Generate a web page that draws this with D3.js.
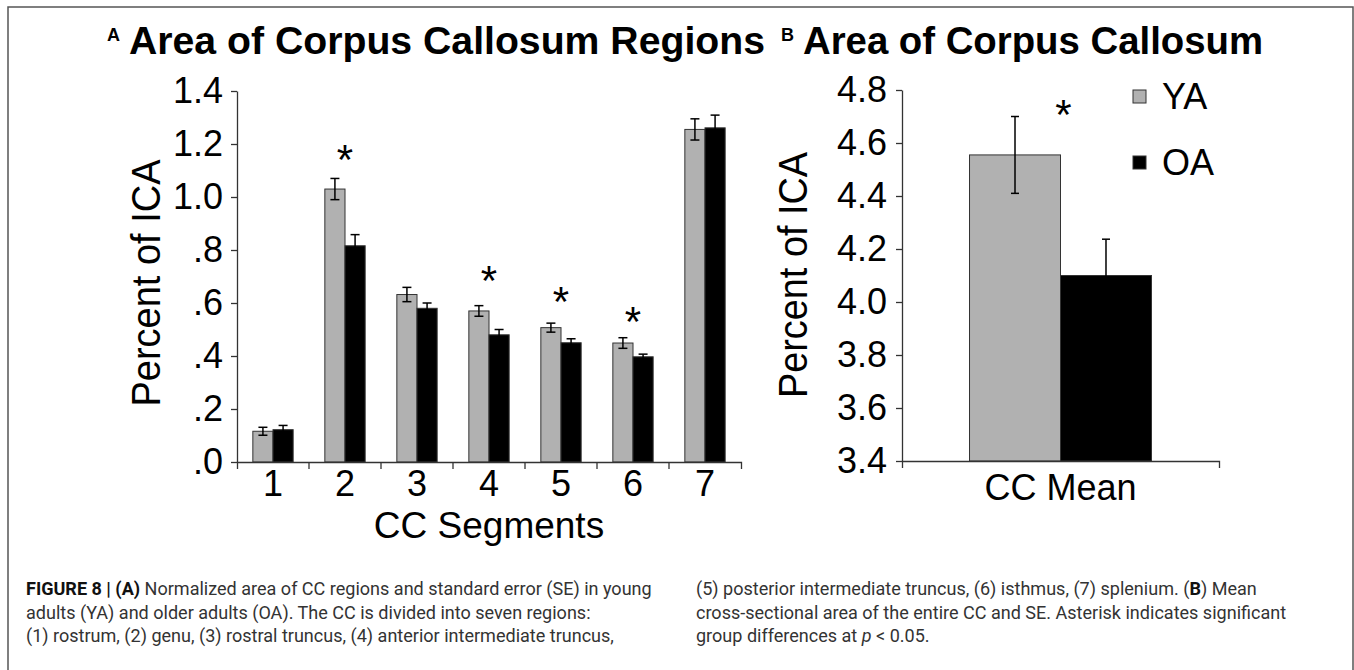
<!DOCTYPE html>
<html>
<head>
<meta charset="utf-8">
<script src="https://cdn.jsdelivr.net/npm/d3@7"></script>
<style>
  body { margin: 0; background: #fff; }
  svg { display: block; font-family: "Liberation Sans", Arial, sans-serif; }
  .axis path, .axis line { stroke: #333; stroke-width: 1.3; }
</style>
</head>
<body>
<svg id="fig" width="1354" height="670"></svg>
<script>
// Panel A data: CC segment areas (percent of ICA)
const segments = ["1", "2", "3", "4", "5", "6", "7"];
const yaMeans = [0.116, 1.030, 0.632, 0.570, 0.507, 0.449, 1.255];
const yaSE    = [0.015, 0.040, 0.027, 0.020, 0.017, 0.020, 0.040];
const oaMeans = [0.122, 0.816, 0.580, 0.480, 0.450, 0.397, 1.261];
const oaSE    = [0.016, 0.042, 0.020, 0.020, 0.015, 0.010, 0.048];
const sigSegments = ["2", "4", "5", "6"];
const sigMarkA = [1.177, 0.722, 0.642, 0.566];
const yTicksA = [0, 0.2, 0.4, 0.6, 0.8, 1.0, 1.2, 1.4];

// Panel B data: whole CC mean
const groups = ["YA", "OA"];
const totalCategory = ["CC Mean"];
const totalMeans = [4.555, 4.100];
const totalSE = [0.145, 0.137];
const sigMarkB = 4.743;
const yTicksB = [3.4, 3.6, 3.8, 4.0, 4.2, 4.4, 4.6, 4.8];

const groupFill = {YA: "#b1b1b1", OA: "#000"};
const svg = d3.select("#fig");

// figure frame
svg.append("path")
  .attr("d", "M8,670V7H1353V670")
  .attr("fill", "none").attr("stroke", "#555").attr("stroke-width", 1.5);

function fmtA(d) {
  let s = d3.format(".1f")(d);
  return d < 1 ? s.replace(/^0/, "") : s;
}

function drawStar(g, x, y) {
  const fs = 42;
  g.append("text")
    .attr("x", x).attr("y", y + 0.572 * fs)
    .attr("text-anchor", "middle")
    .attr("font-size", fs)
    .text("*");
}

function errorBar(g, x, yTop, yBot, cap) {
  g.append("line").attr("x1", x).attr("x2", x).attr("y1", yTop).attr("y2", yBot)
    .attr("stroke", "#000").attr("stroke-width", 1.5);
  [yTop, yBot].forEach(function (y) {
    g.append("line").attr("x1", x - cap / 2).attr("x2", x + cap / 2).attr("y1", y).attr("y2", y)
      .attr("stroke", "#000").attr("stroke-width", 1.5);
  });
}

// ---------- Panel A ----------
const gA = svg.append("g");
const yA = d3.scaleLinear().domain([0, 1.4]).range([462, 91]);
const xA = d3.scaleBand().domain(segments).range([237, 741]).paddingInner(0.44).paddingOuter(0.22);
const subA = d3.scaleBand().domain(groups).range([0, xA.bandwidth()]);

const rowsA = segments.map(function (s, i) {
  return [
    {seg: s, grp: "YA", mean: yaMeans[i], se: yaSE[i]},
    {seg: s, grp: "OA", mean: oaMeans[i], se: oaSE[i]}
  ];
}).flat();

gA.selectAll("rect.bar").data(rowsA).join("rect")
  .attr("class", "bar")
  .attr("x", d => xA(d.seg) + subA(d.grp))
  .attr("y", d => yA(d.mean))
  .attr("width", subA.bandwidth())
  .attr("height", d => yA(0) - yA(d.mean))
  .attr("fill", d => groupFill[d.grp])
  .attr("stroke", "#333").attr("stroke-width", 1);

rowsA.forEach(function (d) {
  const cx = xA(d.seg) + subA(d.grp) + subA.bandwidth() / 2;
  errorBar(gA, cx, yA(d.mean + d.se), yA(d.mean - d.se), 9);
});

sigSegments.forEach(function (s, i) {
  drawStar(gA, xA(s) + xA.bandwidth() / 2, yA(sigMarkA[i]));
});

const yAxisA = gA.append("g").attr("class", "axis")
  .attr("transform", "translate(237,0)")
  .call(d3.axisLeft(yA).tickValues(yTicksA).tickFormat(fmtA).tickSize(6).tickSizeOuter(0).tickPadding(8));

const xAxisA = gA.append("g").attr("class", "axis")
  .attr("transform", "translate(0,462)")
  .call(d3.axisBottom(xA).tickSize(0).tickSizeOuter(7).tickPadding(8));
xAxisA.selectAll(".tick text").attr("dy", "0.71em");

// boundary ticks between segments
d3.range(1, segments.length).forEach(function (i) {
  const bx = xA.range()[0] + i * xA.step();
  xAxisA.append("line").attr("x1", bx).attr("x2", bx).attr("y1", 0).attr("y2", 7);
});

[yAxisA, xAxisA].forEach(function (ax) {
  ax.selectAll("text").attr("font-size", 36).attr("fill", "#000");
});

gA.append("text")
  .attr("transform", "translate(160,283) rotate(-90)")
  .attr("text-anchor", "middle")
  .attr("font-size", 40)
  .attr("textLength", 247).attr("lengthAdjust", "spacingAndGlyphs")
  .text("Percent of ICA");

gA.append("text")
  .attr("x", 489).attr("y", 538)
  .attr("text-anchor", "middle")
  .attr("font-size", 37)
  .text("CC Segments");

// ---------- Panel B ----------
const gB = svg.append("g");
const yB = d3.scaleLinear().domain([3.4, 4.8]).range([461, 90]);
const xB = d3.scaleBand().domain(totalCategory).range([902, 1219]).paddingInner(0).paddingOuter(0.371);
const subB = d3.scaleBand().domain(groups).range([0, xB.bandwidth()]);

const rowsB = groups.map(function (g, i) {
  return {cat: totalCategory[0], grp: g, mean: totalMeans[i], se: totalSE[i]};
});

gB.selectAll("rect.bar").data(rowsB).join("rect")
  .attr("class", "bar")
  .attr("x", d => xB(d.cat) + subB(d.grp))
  .attr("y", d => yB(d.mean))
  .attr("width", subB.bandwidth())
  .attr("height", d => yB(3.4) - yB(d.mean))
  .attr("fill", d => groupFill[d.grp])
  .attr("stroke", "#333").attr("stroke-width", 1);

rowsB.forEach(function (d) {
  const cx = xB(d.cat) + subB(d.grp) + subB.bandwidth() / 2;
  errorBar(gB, cx, yB(d.mean + d.se), yB(d.mean - d.se), 8);
});

drawStar(gB, xB(totalCategory[0]) + xB.bandwidth() / 2 + 3, yB(sigMarkB));

const yAxisB = gB.append("g").attr("class", "axis")
  .attr("transform", "translate(902,0)")
  .call(d3.axisLeft(yB).tickValues(yTicksB).tickFormat(d3.format(".1f")).tickSize(6).tickSizeOuter(0).tickPadding(9));

const xAxisB = gB.append("g").attr("class", "axis")
  .attr("transform", "translate(0,461)")
  .call(d3.axisBottom(xB).tickSize(0).tickSizeOuter(7).tickPadding(13));
xAxisB.selectAll(".tick text").attr("dy", "0.71em");

[yAxisB, xAxisB].forEach(function (ax) {
  ax.selectAll("text").attr("font-size", 36).attr("fill", "#000");
});

gB.append("text")
  .attr("transform", "translate(807,275) rotate(-90)")
  .attr("text-anchor", "middle")
  .attr("font-size", 40)
  .attr("textLength", 246).attr("lengthAdjust", "spacingAndGlyphs")
  .text("Percent of ICA");

// legend
const legend = gB.selectAll("g.leg").data(groups).join("g")
  .attr("class", "leg")
  .attr("transform", (d, i) => "translate(1133," + (90 + i * 66) + ")");
legend.append("rect")
  .attr("width", 13).attr("height", 13)
  .attr("fill", d => groupFill[d])
  .attr("stroke", "#333").attr("stroke-width", 1);
legend.append("text")
  .attr("x", 29).attr("y", 19)
  .attr("font-size", 36)
  .text(d => d);

// ---------- Titles ----------
const titles = [
  {tag: "A", text: "Area of Corpus Callosum Regions", x: 129, len: 636},
  {tag: "B", text: "Area of Corpus Callosum", x: 803, len: 460}
];
titles.forEach(function (t) {
  svg.append("text")
    .attr("x", t.x - 22).attr("y", 41)
    .attr("font-size", 18).attr("font-weight", "bold")
    .text(t.tag);
  svg.append("text")
    .attr("x", t.x).attr("y", 54)
    .attr("font-size", 38).attr("font-weight", "bold")
    .attr("textLength", t.len).attr("lengthAdjust", "spacingAndGlyphs")
    .text(t.text);
});

// ---------- Caption ----------
const captionLeft = [
  [["FIGURE 8 | (A)", "bold"], [" Normalized area of CC regions and standard error (SE) in young", ""]],
  [["adults (YA) and older adults (OA). The CC is divided into seven regions:", ""]],
  [["(1) rostrum, (2) genu, (3) rostral truncus, (4) anterior intermediate truncus,", ""]]
];
const captionRight = [
  [["(5) posterior intermediate truncus, (6) isthmus, (7) splenium. (", ""], ["B", "bold"], [") Mean", ""]],
  [["cross-sectional area of the entire CC and SE. Asterisk indicates significant", ""]],
  [["group differences at ", ""], ["p", "italic"], [" < 0.05.", ""]]
];

const cap = svg.append("g")
  .style("font-family", "Roboto, 'Liberation Sans', sans-serif")
  .attr("fill", "#333");

function captionColumn(lines, x) {
  return lines.map(function (parts, i) {
    const t = cap.append("text").attr("x", x).attr("y", 595 + i * 23.5).attr("font-size", 15);
    parts.forEach(function (p) {
      const ts = t.append("tspan").text(p[0]);
      if (p[1] === "bold") ts.attr("font-weight", "bold").attr("fill", "#111");
      if (p[1] === "italic") ts.attr("font-style", "italic");
    });
    return t;
  });
}
const leftLines = captionColumn(captionLeft, 26);
const rightLines = captionColumn(captionRight, 696);

// scale caption font so the first line spans the measured width
const w0 = leftLines[0].node().getComputedTextLength();
const capSize = 15 * 626 / w0;
leftLines.concat(rightLines).forEach(function (t) { t.attr("font-size", capSize); });
</script>
</body>
</html>
